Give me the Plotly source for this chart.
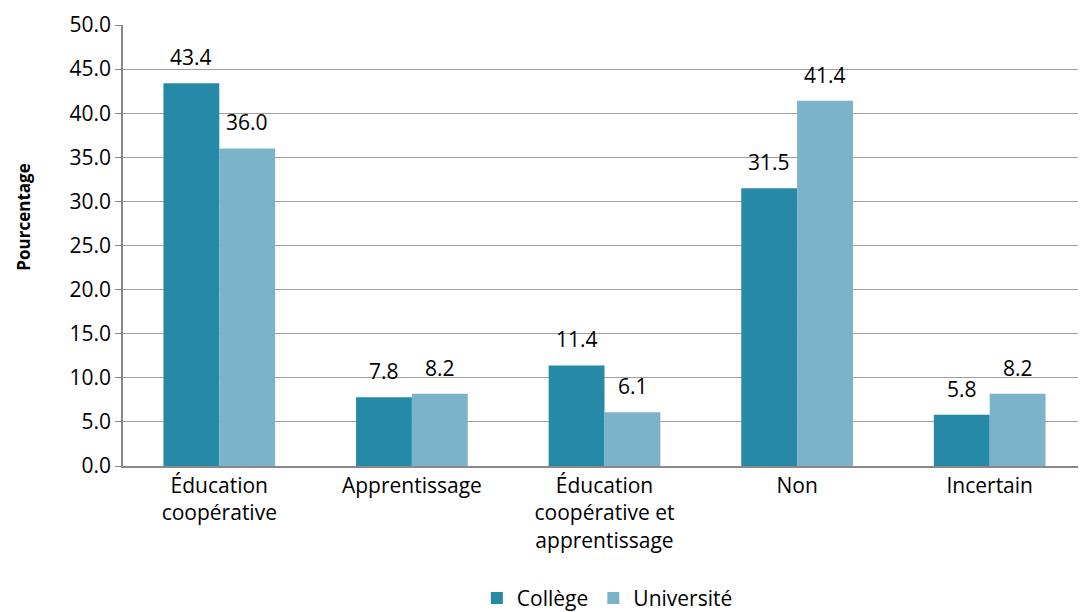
import plotly.graph_objects as go

categories = ["Éducation<br>coopérative", "Apprentissage",
              "Éducation<br>coopérative et<br>apprentissage", "Non", "Incertain"]
college = [43.4, 7.8, 11.4, 31.5, 5.8]
universite = [36.0, 8.2, 6.1, 41.4, 8.2]
series_names = ["Collège", "Université"]
y_ticks = [0, 5, 10, 15, 20, 25, 30, 35, 40, 45, 50]

FONT = "'Open Sans', Lato, sans-serif"
FS = 21
c_col = "#2789A8"
c_uni = "#7AB3CA"

fig = go.Figure()
fig.add_trace(go.Bar(x=categories, y=college, name=series_names[0],
                     marker=dict(color=c_col, line=dict(width=0))))
fig.add_trace(go.Bar(x=categories, y=universite, name=series_names[1],
                     marker=dict(color=c_uni, line=dict(width=0))))

annotations = []
for series, shift in ((college, -28), (universite, 28)):
    for cat, v in zip(categories, series):
        annotations.append(dict(x=cat, y=v, text=f"{v:.1f}", showarrow=False,
                                xshift=shift, yshift=10, yanchor="bottom",
                                font=dict(family=FONT, size=FS, color="#000")))
annotations.append(dict(text="<b>Pourcentage</b>", xref="paper", yref="paper",
                        x=-0.103, y=0.565, textangle=-90, showarrow=False,
                        xanchor="center", yanchor="middle",
                        font=dict(family=FONT, size=17, color="#000")))

fig.update_layout(
    width=1078, height=604,
    margin=dict(l=115, r=0, t=17, b=146, autoexpand=False),
    paper_bgcolor="white", plot_bgcolor="white",
    barmode="group", bargap=0.42, bargroupgap=0,
    font=dict(family=FONT, size=FS, color="#000"),
    showlegend=True,
    legend=dict(orientation="h", x=0.556, xanchor="center", xref="container",
                y=-0.30, yanchor="middle", yref="paper",
                font=dict(family=FONT, size=FS), itemwidth=30,
                tracegroupgap=0),
    annotations=annotations,
    xaxis=dict(showline=True, linecolor="#888", linewidth=1.5, ticks="",
               tickfont=dict(family=FONT, size=FS), showgrid=False,
               automargin=False),
    yaxis=dict(range=[0, 50], tickvals=y_ticks, ticktext=[f"{t:.1f}" for t in y_ticks],
               showline=True, linecolor="#888", linewidth=1.5,
               ticks="outside", ticklen=6, tickcolor="#888",
               showgrid=True, gridcolor="#A0A0A0", gridwidth=1.2,
               zeroline=False, automargin=False,
               tickfont=dict(family=FONT, size=FS)),
)

fig.write_html("out.html")
